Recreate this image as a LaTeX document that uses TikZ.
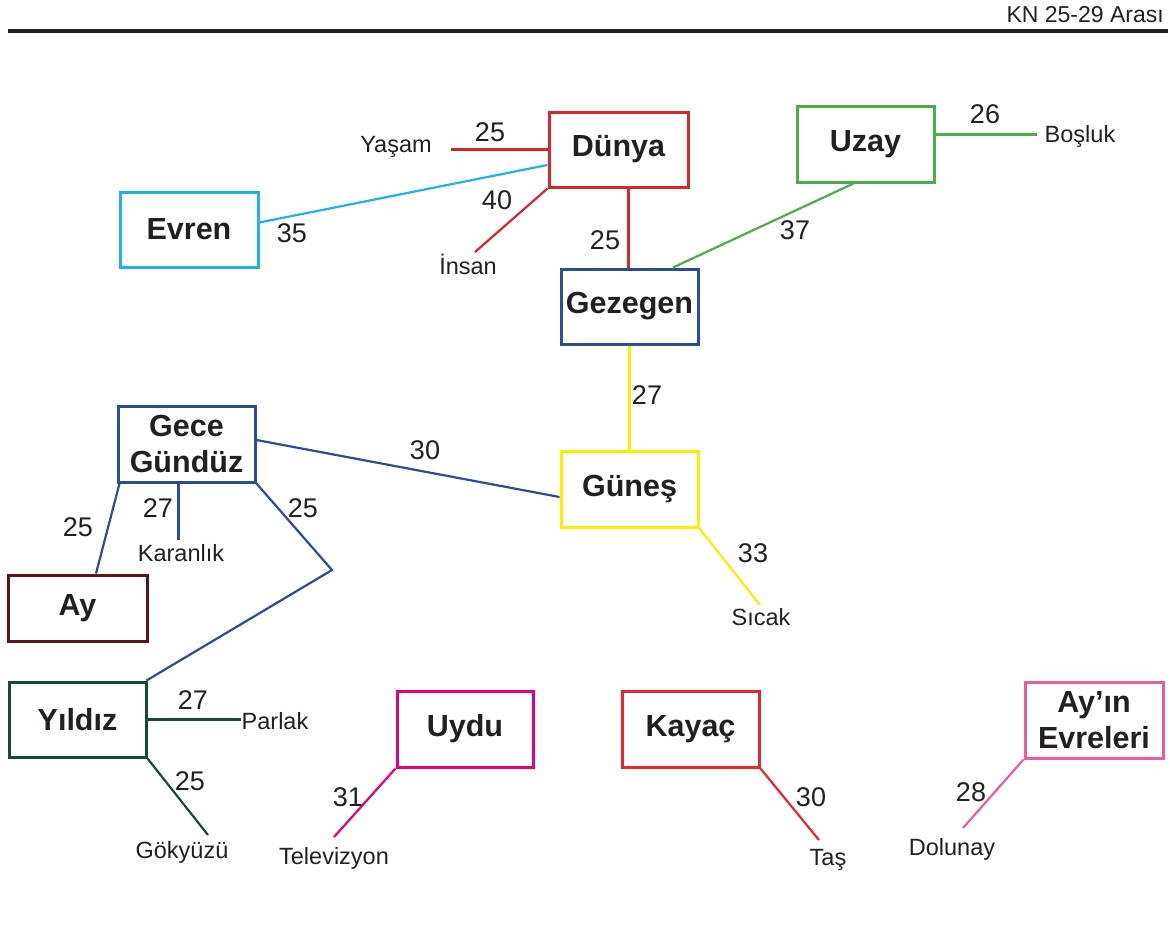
\documentclass[tikz,border=0pt]{standalone}
\usepackage{fontspec}
\setmainfont{Liberation Sans}
\definecolor{ink}{RGB}{35,31,32}
\definecolor{cred}{RGB}{215,38,46}
\definecolor{cgreen}{RGB}{74,174,74}
\definecolor{ccyan}{RGB}{30,180,235}
\definecolor{cblue}{RGB}{46,74,154}
\definecolor{cyellow}{RGB}{255,236,0}
\definecolor{cmaroon}{RGB}{92,20,22}
\definecolor{cdgreen}{RGB}{28,74,46}
\definecolor{cmagenta}{RGB}{230,0,126}
\definecolor{cred2}{RGB}{232,38,44}
\definecolor{cpink}{RGB}{236,90,164}
\begin{document}
\begin{tikzpicture}[x=1pt,y=-1pt,
  box/.style={draw, line width=3pt, inner sep=0pt, minimum width=137pt, minimum height=75pt,
    font=\fontsize{30.5}{36.5}\selectfont\bfseries, text=ink, align=center},
  num/.style={font=\fontsize{27}{30}\selectfont, text=ink, inner sep=0pt},
  lbl/.style={font=\fontsize{23.5}{26}\selectfont, text=ink, inner sep=0pt},
  conn/.style={line width=2.2pt},
  thick conn/.style={line width=3pt}]
\useasboundingbox (0,0) rectangle (1170,935);
% header
\node[anchor=east, font=\fontsize{23}{26}\selectfont, text=ink, inner sep=0pt] (hdr) at (1164,15) {KN 25-29 Arası};
\draw[line width=4pt, ink] (8,31) -- (1168,31);
% boxes
\node[box, draw=cred, minimum width=139pt] (dunya) at (618.5,149.5) {Dünya};
\node[box, draw=cgreen, minimum height=76pt] (uzay) at (865.5,144) {Uzay};
\node[box, draw=ccyan, minimum width=138pt] (evren) at (189,229.5) {Evren};
\node[box, draw=cblue] (gezegen) at (629.5,306.5) {Gezegen};
\node[box, draw=cblue, minimum height=76pt] (gece) at (186.5,444) {Gece\\Gündüz};
\node[box, draw=cyellow, minimum height=76pt] (gunes) at (629.5,489) {Güneş};
\node[box, draw=cmaroon, minimum width=139pt, minimum height=66pt] (ay) at (77.5,608) {Ay};
\node[box, draw=cdgreen] (yildiz) at (77.5,719.5) {Yıldız};
\node[box, draw=cmagenta, minimum width=136pt, minimum height=76pt] (uydu) at (465,729) {Uydu};
\node[box, draw=cred2, minimum height=76pt] (kayac) at (690.5,729) {Kayaç};
\node[box, draw=cpink, minimum width=138pt, minimum height=76pt] (evreler) at (1094,720) {Ay’ın\\Evreleri};
% free ends
\coordinate (yasamE) at (451,149.5);
\coordinate (insanE) at (475,252);
\coordinate (boslukE) at (1037,134);
\coordinate (sicakE) at (760,605);
\coordinate (karanlikE) at (178,540);
\coordinate (bend) at (332,570);
\coordinate (parlakE) at (241,719.5);
\coordinate (gokE) at (208,835);
\coordinate (tvE) at (334,837);
\coordinate (tasE) at (819,840);
\coordinate (dolE) at (963,828);
% connectors
\draw[thick conn, cred] (dunya.west) -- (yasamE);
\draw[conn, ccyan] ([yshift=7pt]evren.east) -- ([yshift=-15.5pt]dunya.west);
\draw[conn, cred] (dunya.south west) -- (insanE);
\draw[thick conn, cred] ([xshift=9.5pt]dunya.south) -- ([xshift=-1.5pt]gezegen.north);
\draw[conn, cgreen] ([xshift=-12pt]uzay.south) -- ([xshift=43.5pt]gezegen.north);
\draw[thick conn, cgreen] ([yshift=10pt]uzay.east) -- (boslukE);
\draw[thick conn, cyellow] (gezegen.south) -- (gunes.north);
\draw[conn, cblue] ([yshift=4pt]gece.east) -- ([yshift=-8pt]gunes.west);
\draw[conn, cyellow] (gunes.south east) -- (sicakE);
\draw[conn, cblue] ([xshift=3pt]gece.south west) -- ([xshift=18.5pt]ay.north);
\draw[thick conn, cblue] ([xshift=-8.5pt]gece.south) -- (karanlikE);
\draw[conn, cblue] (gece.south east) -- (bend) -- ([xshift=-1pt]yildiz.north east);
\draw[thick conn, cdgreen] (yildiz.east) -- (parlakE);
\draw[conn, cdgreen] (yildiz.south east) -- (gokE);
\draw[conn, cmagenta] (uydu.south west) -- (tvE);
\draw[conn, cred2] (kayac.south east) -- (tasE);
\draw[conn, cpink] (evreler.south west) -- (dolE);
% numbers
\node[num] (n1) at (490,132) {25};
\node[num] (n2) at (292,233) {35};
\node[num] (n3) at (497,200) {40};
\node[num] (n4) at (605,240) {25};
\node[num] (n5) at (795,230) {37};
\node[num] (n6) at (985,114) {26};
\node[num] (n7) at (647,395) {27};
\node[num] (n8) at (425,450) {30};
\node[num] (n9) at (753,553) {33};
\node[num] (n10) at (78,527) {25};
\node[num] (n11) at (158,508) {27};
\node[num] (n12) at (303,508) {25};
\node[num] (n13) at (193,700) {27};
\node[num] (n14) at (190,781) {25};
\node[num] (n15) at (348,797) {31};
\node[num] (n16) at (811,797) {30};
\node[num] (n17) at (971,792) {28};
% labels
\node[lbl] (yasam) at (396,147) {Yaşam};
\node[lbl] (insan) at (468,264) {İnsan};
\node[lbl] (bosluk) at (1080,136) {Boşluk};
\node[lbl] (sicak) at (761,617) {Sıcak};
\node[lbl] (karanlik) at (181,553) {Karanlık};
\node[lbl] (parlak) at (275,721) {Parlak};
\node[lbl] (gokyuzu) at (182,852) {Gökyüzü};
\node[lbl] (tv) at (334,858) {Televizyon};
\node[lbl] (tas) at (828,860) {Taş};
\node[lbl] (dolunay) at (952,849) {Dolunay};
\end{tikzpicture}
\end{document}
